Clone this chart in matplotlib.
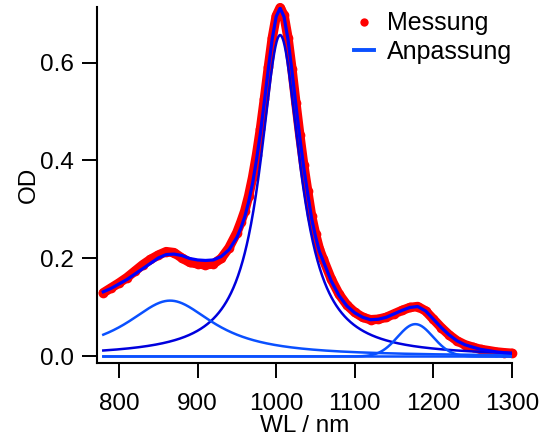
import matplotlib
matplotlib.use("Agg")
import numpy as np
import matplotlib.pyplot as plt
from matplotlib.lines import Line2D

plt.rcParams['font.family'] = ['Liberation Sans', 'DejaVu Sans']

# Wavelength grid (nm) of the tabulated spectra
wl = [780, 790, 800, 810, 820, 830, 840, 850, 860, 870, 880, 890, 900, 910, 920, 930,
      940, 950, 955, 960, 965, 970, 975, 980, 985, 990, 995, 1000, 1005, 1010, 1015,
      1020, 1025, 1030, 1035, 1040, 1045, 1050, 1055, 1060, 1070, 1080, 1090, 1100,
      1110, 1120, 1130, 1140, 1150, 1160, 1170, 1180, 1190, 1200, 1210, 1220, 1230,
      1240, 1250, 1260, 1270, 1280, 1290, 1300]

# Measured optical density
od_meas = [0.130, 0.140, 0.150, 0.161, 0.174, 0.187, 0.198, 0.207, 0.214, 0.212, 0.201,
           0.192, 0.189, 0.187, 0.189, 0.200, 0.222, 0.253, 0.274, 0.297, 0.328, 0.366,
           0.412, 0.465, 0.526, 0.590, 0.650, 0.695, 0.712, 0.696, 0.650, 0.587, 0.518,
           0.452, 0.391, 0.338, 0.287, 0.250, 0.219, 0.198, 0.158, 0.127, 0.105, 0.090,
           0.080, 0.075, 0.076, 0.080, 0.087, 0.094, 0.100, 0.102, 0.093, 0.076, 0.059,
           0.044, 0.032, 0.024, 0.019, 0.0145, 0.012, 0.0093, 0.0077, 0.0065]

# Total fit
od_fit = [0.132, 0.139, 0.148, 0.157, 0.168, 0.179, 0.190, 0.201, 0.208, 0.209, 0.206,
          0.200, 0.197, 0.196, 0.197, 0.204, 0.218, 0.243, 0.262, 0.285, 0.316, 0.354,
          0.402, 0.457, 0.521, 0.587, 0.649, 0.694, 0.711, 0.693, 0.647, 0.583, 0.514,
          0.447, 0.386, 0.333, 0.282, 0.245, 0.214, 0.194, 0.154, 0.124, 0.103, 0.089,
          0.080, 0.075, 0.076, 0.080, 0.087, 0.094, 0.100, 0.102, 0.093, 0.076, 0.059,
          0.044, 0.032, 0.024, 0.019, 0.0145, 0.012, 0.0093, 0.0077, 0.0065]

# Fitted band components: centre (nm), height (OD), width parameter (nm)
lor_center = [1005.0, 865.0]
lor_height = [0.656, 0.114]
lor_hwhm = [31.0, 68.0]
lor_color = ['#0000dd', '#0a50ff']

gau_center = [1177.0]
gau_height = [0.066]
gau_sigma = [22.5]
gau_color = ['#0a50ff']

baseline_od = 0.0

xticks = [800, 900, 1000, 1100, 1200, 1300]
yticks = [0.0, 0.2, 0.4, 0.6]
ytick_labels = ['0.0', '0.2', '0.4', '0.6']

FS = 17.5

fig = plt.figure(figsize=(5.41, 4.43), dpi=100)
ax = fig.add_axes([0.1793, 0.1806, 0.7671, 0.8036])

x = np.linspace(wl[0], wl[-1], 1041)

# Measurement: dense dots forming a band
ax.plot(wl, od_meas, color='#ff0000', lw=6.8, solid_capstyle='round',
        solid_joinstyle='round', zorder=2, clip_on=False)
ax.plot(wl, od_meas, 'o', color='#ff0000', ms=7.0, mew=0, zorder=2, clip_on=False)

# Components
ax.plot([wl[0], wl[-1]], [baseline_od, baseline_od], color='#0a50ff', lw=1.8, zorder=3)
for c, h, g, col in zip(lor_center, lor_height, lor_hwhm, lor_color):
    ax.plot(x, h * g**2 / ((x - c)**2 + g**2), color=col, lw=1.8, zorder=3)
for c, h, s, col in zip(gau_center, gau_height, gau_sigma, gau_color):
    ax.plot(x, h * np.exp(-0.5 * ((x - c) / s)**2), color=col, lw=1.8, zorder=3)

# Total fit
ax.plot(wl, od_fit, color='#0000ff', lw=2.3, zorder=4)

ax.set_xlim(772, 1300)
ax.set_ylim(-0.0133, 0.7133)
ax.set_xticks(xticks)
ax.set_yticks(yticks)
ax.set_yticklabels(ytick_labels)

for side in ('top', 'right'):
    ax.spines[side].set_visible(False)
for side in ('left', 'bottom'):
    ax.spines[side].set_linewidth(1.5)

ax.tick_params(axis='both', direction='out', length=10.8, width=1.4, labelsize=FS)
ax.tick_params(axis='x', pad=10.5)
ax.tick_params(axis='y', pad=6.0)

ax.set_xlabel('WL / nm', fontsize=FS, labelpad=0.5)
ax.set_ylabel('OD', fontsize=FS, labelpad=0)

handles = [Line2D([], [], ls='none', marker='o', color='#ff0000', ms=6.0, mew=0),
           Line2D([], [], color='#0a50ff', lw=2.8)]
ax.legend(handles, ['Messung', 'Anpassung'], loc='upper right', bbox_to_anchor=(1.0, 0.988),
          frameon=False, fontsize=18, borderpad=0, borderaxespad=0,
          handlelength=0.8, handletextpad=0.5, labelspacing=0.17)

fig.savefig('out.png', dpi=100)
